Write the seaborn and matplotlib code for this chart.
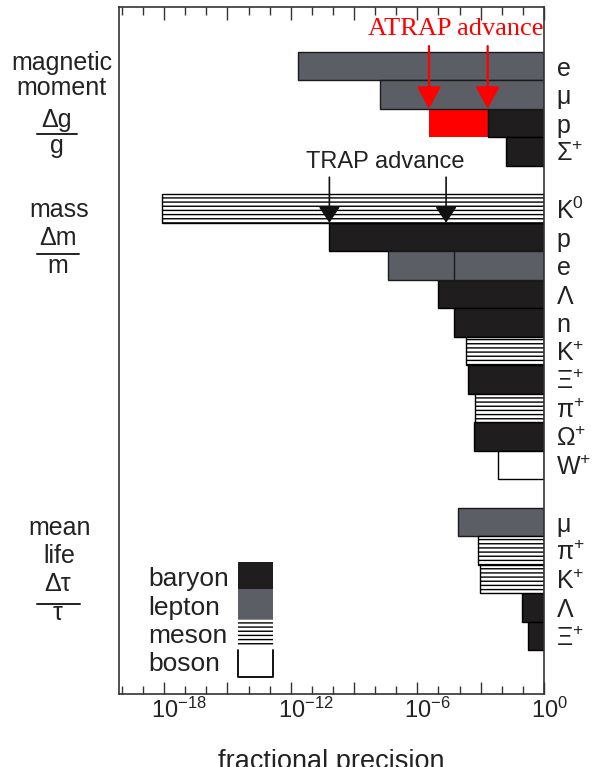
import numpy as np
import pandas as pd
import matplotlib
matplotlib.use("Agg")
import matplotlib.pyplot as plt
import matplotlib.transforms as mtransforms
from matplotlib.patches import Rectangle
from matplotlib.lines import Line2D
import seaborn as sns

# ---------------- data (log10 of fractional precision) ----------------
mag_labels = ["e", "μ", "p", "Σ$^{+}$"]
mag_log10 = [-11.67, -7.77, -2.67, -1.80]
mag_kind = ["lepton", "lepton", "baryon", "baryon"]

mass_labels = ["K$^{0}$", "p", "e", "Λ", "n", "K$^{+}$", "Ξ$^{+}$", "π$^{+}$", "Ω$^{+}$", "W$^{+}$"]
mass_log10 = [-18.10, -10.17, -7.38, -5.04, -4.27, -3.70, -3.62, -3.27, -3.32, -2.20]
mass_kind = ["meson", "baryon", "lepton", "baryon", "baryon", "meson", "baryon", "meson", "baryon", "boson"]

life_labels = ["μ", "π$^{+}$", "K$^{+}$", "Λ", "Ξ$^{+}$"]
life_log10 = [-4.09, -3.11, -3.03, -1.03, -0.77]
life_kind = ["lepton", "meson", "meson", "baryon", "baryon"]

atrap_p_log10 = -5.45          # ATRAP proton magnetic moment
atrap_marks = [-5.45, -2.67]
trap_marks = [-10.17, -4.64]
mass_e_previous = -4.25

tick_exps = [-18, -12, -6, 0]
legend_kinds = ["baryon", "lepton", "meson", "boson"]

# ---------------- layout ----------------
rows = list(range(0, 4)) + list(range(5, 15)) + list(range(16, 21))
labels = mag_labels + mass_labels + life_labels
df = pd.DataFrame({
    "row": rows,
    "log10": mag_log10 + mass_log10 + life_log10,
    "kind": mag_kind + mass_kind + life_kind,
})

sns.set_style("white")
plt.rcParams["font.family"] = ["Liberation Sans", "DejaVu Sans"]
plt.rcParams["mathtext.fontset"] = "custom"
plt.rcParams["mathtext.rm"] = "Liberation Sans"
plt.rcParams["mathtext.it"] = "Liberation Sans:italic"
plt.rcParams["mathtext.bf"] = "Liberation Sans:bold"
plt.rcParams["hatch.linewidth"] = 1.0

W, H = 592, 767
fig = plt.figure(figsize=(W / 100, H / 100), dpi=100)
ax = fig.add_axes([119 / W, (H - 694) / H, (544 - 119) / W, (694 - 7) / H])

styles = {
    "baryon": dict(color="#1f1d1d", edgecolor="black", linewidth=1.0),
    "lepton": dict(color="#5b5e64", edgecolor="#1a1a1a", linewidth=1.0),
    "meson": dict(color="white", edgecolor="black", linewidth=1.0, hatch="----"),
    "boson": dict(color="white", edgecolor="black", linewidth=1.0),
}

common = dict(x="log10", y="row", orient="h", native_scale=True, width=1.0,
              errorbar=None, saturation=1, ax=ax)

# ATRAP red bar (drawn first, the old baryon value covers its right part)
red_df = pd.DataFrame({"row": [2], "log10": [atrap_p_log10]})
sns.barplot(data=red_df, color="#ff0000", linewidth=0, **common)

for kind in ["baryon", "lepton", "meson", "boson"]:
    sub = df[df["kind"] == kind]
    sns.barplot(data=sub, **styles[kind], **common)

prev_df = pd.DataFrame({"row": [7], "log10": [mass_e_previous]})
sns.barplot(data=prev_df, **styles["lepton"], **common)

ax.set_xlim(-20.14, 0)
ax.set_ylim(22.03, -2.07)

# y labels on right
ax.yaxis.tick_right()
ax.set_yticks(rows)
ax.set_yticklabels(labels)
ax.tick_params(axis="y", length=0, pad=9, labelsize=18, colors="#222")
ax.set_ylabel("")

# x ticks
ax.set_xticks(np.arange(-18, 1, 3))
ax.set_xticklabels(["10$^{\\mathregular{%d}}$" % e if e in tick_exps else "" for e in np.arange(-18, 1, 3)])
ax.set_xticks(np.arange(-20, 1, 1), minor=True)
ax.tick_params(axis="x", which="both", direction="in", top=True, bottom=True,
               width=1.0, color="#333", labelsize=17, pad=3, labelcolor="#222")
ax.tick_params(axis="x", which="major", length=9)
ax.tick_params(axis="x", which="minor", length=6)
off = mtransforms.ScaledTranslation(-9.5 / 72, 0, fig.dpi_scale_trans)
for lbl in ax.get_xticklabels():
    lbl.set_horizontalalignment("left")
    lbl.set_transform(lbl.get_transform() + off)

ax.set_xlabel("fractional precision", fontsize=19.5, color="#222")
ax.xaxis.set_label_coords(0.5, -0.080)
ax.xaxis.label.set_va("top")

for s in ax.spines.values():
    s.set_visible(True)
    s.set_color("#333")
    s.set_linewidth(1.2)

# arrows
for xm in atrap_marks:
    ax.annotate("", xy=(xm, 1.5), xytext=(xm, -0.70),
                arrowprops=dict(arrowstyle="-|>,head_length=0.55,head_width=0.3",
                                mutation_scale=25, color="#ff0000", lw=1.6,
                                shrinkA=0, shrinkB=0), zorder=5)
ax.text(-4.18, -1.09, "ATRAP advance", color="#ff0000", fontsize=19,
        family="Liberation Serif", ha="center", va="baseline")

for xm in trap_marks:
    ax.annotate("", xy=(xm, 5.5), xytext=(xm, 3.9),
                arrowprops=dict(arrowstyle="-|>,head_length=0.45,head_width=0.3",
                                mutation_scale=22, color="#111", lw=1.2,
                                shrinkA=0, shrinkB=0), zorder=5)
ax.text(-7.54, 3.58, "TRAP advance", color="#222", fontsize=17, ha="center", va="baseline")

# ---------------- legend (drawn as key boxes in figure pixels) ----------------
def px(x, y):
    return x / W, 1 - y / H

key_x0, key_x1 = 238, 273
key_rows = [(562, 589), (589, 619), (619, 647), (650, 677)]
text_base = [586, 615, 643, 671]
key_style = {
    "baryon": dict(facecolor=styles["baryon"]["color"], edgecolor="none"),
    "lepton": dict(facecolor=styles["lepton"]["color"], edgecolor="none"),
    "meson": dict(facecolor="white", edgecolor="black", linewidth=0, hatch="----"),
    "boson": dict(facecolor="white", edgecolor="none"),
}
for kind, (y0, y1), yb in zip(legend_kinds, key_rows, text_base):
    fx0, fy1 = px(key_x0, y0)
    fx1, fy0 = px(key_x1, y1)
    fig.add_artist(Rectangle((fx0, fy0), fx1 - fx0, fy1 - fy0,
                             transform=fig.transFigure, **key_style[kind]))
    fig.text(*px(148, yb), kind, fontsize=19, color="#222", ha="left", va="baseline")
# open-top outline for boson key
bx = [key_x0, key_x0, key_x1, key_x1]
by = [650, 677, 677, 650]
fig.add_artist(Line2D([x / W for x in bx], [1 - y / H for y in by], color="black", lw=1.3))

# ---------------- left-side quantity labels ----------------
tk = dict(fontsize=18, color="#222", va="baseline")
fig.text(*px(112, 70), "magnetic", ha="right", **tk)
fig.text(*px(61, 95), "moment", ha="center", **tk)
fig.text(*px(57, 127), "Δg", ha="center", **tk)
fig.text(*px(57, 153), "g", ha="center", **tk)
fig.text(*px(59, 217), "mass", ha="center", **tk)
fig.text(*px(58, 245), "Δm", ha="center", **tk)
fig.text(*px(58, 273), "m", ha="center", **tk)
fig.text(*px(60, 535), "mean", ha="center", **tk)
fig.text(*px(59, 563), "life", ha="center", **tk)
fig.text(*px(58, 591), "Δτ", ha="center", **tk)
fig.text(*px(58, 620), "τ", ha="center", **tk)
for (x0, x1, y) in [(37, 77, 134), (37, 79, 254), (37, 80, 604)]:
    fig.add_artist(Line2D([x0 / W, x1 / W], [1 - y / H, 1 - y / H], color="#222", lw=1.4))

fig.savefig("out.png", dpi=100)
